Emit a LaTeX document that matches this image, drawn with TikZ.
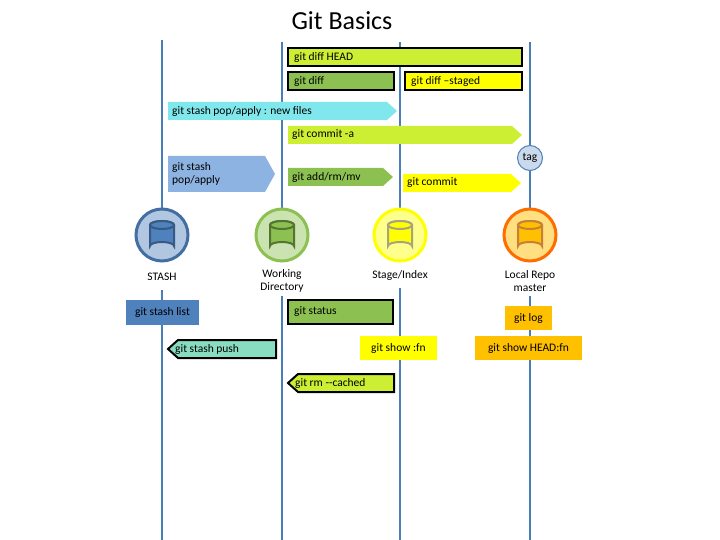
\documentclass[tikz,border=0pt]{standalone}
\usepackage{fontspec}
\setmainfont{Carlito}
\usetikzlibrary{shapes.geometric}
\definecolor{life}{HTML}{4A7EBB}
\definecolor{ygreen}{HTML}{CCEE33}
\definecolor{mgreen}{HTML}{8CC152}
\definecolor{cyanb}{HTML}{80E8EC}
\definecolor{lblue}{HTML}{8DB3E2}
\definecolor{sblue}{HTML}{4F81BD}
\definecolor{aqua}{HTML}{88DDC0}
\definecolor{yel}{HTML}{FFFF00}
\definecolor{org}{HTML}{FFC000}
\newcommand{\rarr}[7]{\path[#6] (#2,#4) -- (#3-10,#4) -- (#3,{(#4+#5)/2}) -- (#3-10,#5) -- (#2,#5) -- cycle;
 \node[lbl,anchor=west] (#1) at (#2+3,{(#4+#5)/2}) {#7};}
\newcommand{\larr}[7]{\path[#6] (#2+10,#4) -- (#3,#4) -- (#3,#5) -- (#2+10,#5) -- (#2,{(#4+#5)/2}) -- cycle;
 \node[lbl,anchor=west] (#1) at (#2+6,{(#4+#5)/2}) {#7};}
\newcommand{\mybox}[7]{\path[#6] (#2,#4) rectangle (#3,#5);
 \node[lbl,anchor=west] (#1) at (#2+5,{(#4+#5)/2}) {#7};}
\newcommand{\cbox}[7]{\path[#6] (#2,#4) rectangle (#3,#5);
 \node[lbl] (#1) at ({(#2+#3)/2},{(#4+#5)/2}) {#7};}
% repo: name, x, ring, fill, cylfill, cylline
\newcommand{\repo}[6]{\node[repo,draw=#3,fill=#4] (#1) at (#2,235) {};
 \path[fill=#5,draw=#6,line width=2pt] (#2-12,225) -- (#2-12,246) arc[start angle=180,end angle=360,x radius=12,y radius=4] -- (#2+12,225) arc[start angle=0,end angle=-180,x radius=12,y radius=4] -- cycle;
 \draw[#6,line width=2pt,fill=#5] (#2,225) ellipse[x radius=12,y radius=4];}
\begin{document}
\begin{tikzpicture}[x=1pt,y=-1pt,
 lbl/.style={font=\fontsize{11.5}{13.5}\selectfont,inner sep=1pt,align=left},
 life/.style={draw=life,line width=2.5pt},
 bk/.style={draw=black,line width=2.5pt},
 repo/.style={circle,minimum size=52pt,line width=3pt,inner sep=0pt}]
\useasboundingbox (0,0) rectangle (720,540);
\node[font=\fontsize{26}{30}\selectfont] (title) at (342,21) {Git Basics};
% lifelines
\foreach \x/\t/\b in {162/40/290, 282/42/296, 400/42/288, 530/42/296}{
  \draw[life] (\x,\t) -- (\x,210);
  \draw[life] (\x,\b) -- (\x,540);}
% bars
\mybox{diffhead}{288}{522}{48}{66}{fill=ygreen,bk}{git diff HEAD}
\mybox{diff}{288}{394}{72}{90}{fill=mgreen,bk}{git diff}
\mybox{diffst}{405}{522}{72}{90}{fill=yel,bk}{git diff --staged}
\rarr{popnew}{168}{397}{102}{120}{fill=cyanb}{git stash pop/apply : new files}
\rarr{commita}{288}{522}{126}{144}{fill=ygreen}{git commit -a}
\rarr{pop}{168}{275}{156}{192}{fill=lblue}{git stash\\pop/apply}
\rarr{add}{288}{393}{168}{186}{fill=mgreen}{git add/rm/mv}
\rarr{commit}{403}{521}{174}{192}{fill=yel}{git commit}
\node[circle,draw=sblue,fill=sblue!30,line width=1pt,minimum size=25pt,inner sep=0pt,font=\fontsize{11.5}{13}\selectfont] (tag) at (530,158) {tag};
% repositories
\repo{stash}{162}{sblue!85!black}{sblue!45}{sblue}{sblue!70!black}
\repo{wd}{282}{mgreen}{mgreen!45}{mgreen}{mgreen!60!black}
\repo{stage}{400}{yel}{yel!45}{yel}{gray!80!yellow}
\repo{local}{530}{orange!85!red}{org!50}{org}{orange!55!gray}
\node[lbl] (stashl) at (162,277) {STASH};
\node[lbl,align=center] (wdl) at (282,281) {Working\\Directory};
\node[lbl] (stagel) at (400,275) {Stage/Index};
\node[lbl,align=center] (locall) at (530,281) {Local Repo\\master};
% lower commands
\cbox{list}{126}{199}{300}{325}{fill=sblue}{git stash list}
\mybox{status}{288}{393}{300}{324}{fill=mgreen,bk}{git status}
\larr{push}{168}{276}{340}{358}{fill=aqua,draw=black,line width=2pt}{git stash push}
\cbox{show}{360}{437}{336}{360}{fill=yel}{git show :fn}
\cbox{log}{505}{552}{306}{330}{fill=org}{git log}
\cbox{showh}{475}{582}{336}{360}{fill=org}{git show HEAD:fn}
\larr{rm}{288}{394}{374}{392}{fill=ygreen,draw=black,line width=2pt}{git rm -{}-cached}
\end{tikzpicture}
\end{document}
